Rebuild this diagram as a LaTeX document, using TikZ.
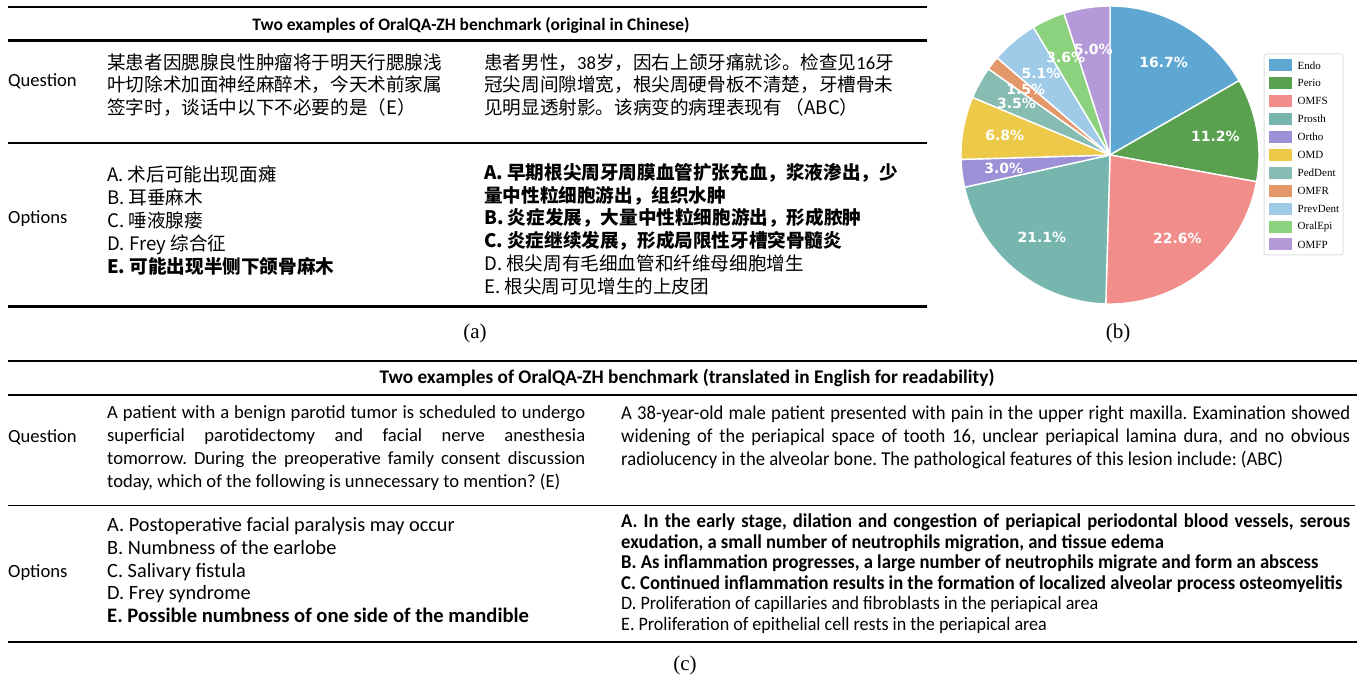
\documentclass[tikz,border=0pt]{standalone}
\usepackage{fontspec}
\setmainfont{Carlito}
\newfontfamily\cjk{Noto Sans CJK SC}
\newfontfamily\narrow{Carlito}[FakeStretch=0.95]
\newfontfamily\serif{Liberation Serif}
\newfontfamily\dejavu{DejaVu Sans}

\definecolor{endo}{RGB}{94,167,211}
\definecolor{perio}{RGB}{89,161,79}
\definecolor{omfs}{RGB}{241,142,139}
\definecolor{prosth}{RGB}{118,182,175}
\definecolor{ortho}{RGB}{156,144,214}
\definecolor{omd}{RGB}{237,201,73}
\definecolor{peddent}{RGB}{134,188,178}
\definecolor{omfr}{RGB}{228,152,106}
\definecolor{prevdent}{RGB}{160,203,232}
\definecolor{oralepi}{RGB}{140,209,125}
\definecolor{omfp}{RGB}{181,153,216}

\newcommand{\jline}[2]{\makebox[#1][s]{#2}}
\newcommand{\num}[1]{{\rmfamily #1}}
% full-width punctuation kept one em wide
\newcommand{\cm}{\makebox[1em][l]{，}}
\newcommand{\pd}{\makebox[1em][l]{。}}

\tikzset{
  cell/.style={anchor=base west, inner sep=0pt, font=\fontsize{18.6}{22}\selectfont},
  zh/.style={cell, font=\cjk\fontsize{18.6}{22}\selectfont},
  zhb/.style={cell, font=\cjk\bfseries\fontsize{18.6}{22}\selectfont},
  opt/.style={cell, font=\fontsize{20.3}{22}\selectfont},
  nar/.style={cell, font=\narrow\fontsize{19.6}{20}\selectfont},
  narb/.style={cell, font=\narrow\bfseries\fontsize{19.6}{20}\selectfont},
  head/.style={anchor=base, inner sep=0pt, font=\bfseries\fontsize{17.5}{20}\selectfont},
  toprule/.style={line width=2.6pt},
  midrule/.style={line width=1.6pt},
  caption/.style={font=\serif\fontsize{21}{24}\selectfont},
  pct/.style={text=white, inner sep=0pt, font=\dejavu\bfseries\fontsize{14}{16}\selectfont},
  leg/.style={anchor=west, inner sep=0pt, font=\serif\fontsize{11}{13}\selectfont}
}

\begin{document}
\frenchspacing
\begin{tikzpicture}[x=1pt, y=1pt]
\useasboundingbox (0,0) rectangle (1369,-684);

% ---- (a) table in Chinese
\draw[toprule] (8,-7) -- (927,-7);
\node[head] (headA) at (471,-31) {Two examples of OralQA-ZH benchmark (original in Chinese)};
\draw[toprule] (8,-40.5) -- (927,-40.5);

\node[cell] (qA) at (8,-87) {Question};
\node[zh] (qA1) at (107,-69.5) {某患者因腮腺良性肿瘤将于明天行腮腺浅};
\node[zh] (qA2) at (107,-92) {叶切除术加面神经麻醉术\cm 今天术前家属};
\node[zh] (qA3) at (107,-114.5) {签字时\cm 谈话中以下不必要的是（E）};
\node[zh] (qB1) at (484,-69.5) {患者男性\cm\num{38}岁\cm 因右上颌牙痛就诊\pd 检查见\num{16}牙};
\node[zh] (qB2) at (484,-92) {冠尖周间隙增宽\cm 根尖周硬骨板不清楚\cm 牙槽骨未};
\node[zh] (qB3) at (484,-114.5) {见明显透射影\pd 该病变的病理表现有 （ABC）};
\draw[midrule] (8,-143) -- (927,-143);

\node[cell] (oA) at (8,-223.5) {Options};
\node[zh] (oA1) at (107,-182) {A. 术后可能出现面瘫};
\node[zh] (oA2) at (107,-205) {B. 耳垂麻木};
\node[zh] (oA3) at (107,-228) {C. 唾液腺瘘};
\node[zh] (oA4) at (107,-251) {D. Frey 综合征};
\node[zhb] (oA5) at (107,-274) {E. 可能出现半侧下颌骨麻木};
\node[zhb] (oB1) at (484,-180) {A. 早期根尖周牙周膜血管扩张充血\cm 浆液渗出\cm 少};
\node[zhb] (oB2) at (484,-202.5) {量中性粒细胞游出\cm 组织水肿};
\node[zhb] (oB3) at (484,-225) {B. 炎症发展\cm 大量中性粒细胞游出\cm 形成脓肿};
\node[zhb] (oB4) at (484,-248) {C. 炎症继续发展\cm 形成局限性牙槽突骨髓炎};
\node[zh] (oB5) at (484,-271) {D. 根尖周有毛细血管和纤维母细胞增生};
\node[zh] (oB6) at (484,-294) {E. 根尖周可见增生的上皮团};
\draw[toprule] (8,-306.7) -- (927,-306.7);
\node[caption] (capA) at (475,-333) {(a)};

% ---- (b) pie chart
\coordinate (pie) at (1110,-155);
\def\pieang{90}
\foreach \val/\col in {16.7/endo,11.2/perio,22.6/omfs,21.1/prosth,3.0/ortho,6.8/omd,3.5/peddent,1.5/omfr,5.1/prevdent,3.6/oralepi,5.0/omfp}{
  \pgfmathsetmacro\endang{\pieang-3.5964*\val}
  \filldraw[fill=\col, draw=white, line width=1.4pt, line join=round]
    (pie) -- ++(\pieang:149) arc[start angle=\pieang, end angle=\endang, radius=149] -- cycle;
  \global\let\pieang\endang
}
\def\pieang{90}
\foreach \val [count=\k] in {16.7,11.2,22.6,21.1,3.0,6.8,3.5,1.5,5.1,3.6,5.0}{
  \pgfmathsetmacro\endang{\pieang-3.5964*\val}
  \pgfmathsetmacro\midang{(\pieang+\endang)/2}
  \node[pct] (pct\k) at ([shift={(\midang:107)}]pie) {\val\%};
  \global\let\pieang\endang
}

% legend
\draw[gray!25, line width=1pt, rounded corners=2pt, fill=white] (1264,-54) rectangle (1343,-255);
\foreach \name/\col [count=\k] in {Endo/endo,Perio/perio,OMFS/omfs,Prosth/prosth,Ortho/ortho,OMD/omd,PedDent/peddent,OMFR/omfr,PrevDent/prevdent,OralEpi/oralepi,OMFP/omfp}{
  \fill[\col] (1269,{-59.5-17.9*(\k-1)}) rectangle ++(22.5,-12);
  \node[leg] (leg\k) at (1297.5,{-65.5-17.9*(\k-1)}) {\name};
}
\node[caption] (capB) at (1118,-333) {(b)};

% ---- (c) table in English
\draw[toprule] (8,-361) -- (1357,-361);
\node[head, font=\bfseries\fontsize{19.3}{20}\selectfont] (headC) at (687,-384) {Two examples of OralQA-ZH benchmark (translated in English for readability)};
\draw[toprule] (8,-395) -- (1357,-395);

\node[cell] (qC) at (8,-442.5) {Question};
\node[cell] (qC1) at (107,-418.5) {\jline{478pt}{A patient with a benign parotid tumor is scheduled to undergo}};
\node[cell] (qC2) at (107,-442) {\jline{478pt}{superficial parotidectomy and facial nerve anesthesia}};
\node[cell] (qC3) at (107,-465) {\jline{478pt}{tomorrow. During the preoperative family consent discussion}};
\node[cell] (qC4) at (107,-488) {today, which of the following is unnecessary to mention? (E)};
\node[nar] (qD1) at (621,-419.5) {\jline{729pt}{A 38-year-old male patient presented with pain in the upper right maxilla. Examination showed}};
\node[nar] (qD2) at (621,-443) {\jline{729pt}{widening of the periapical space of tooth 16, unclear periapical lamina dura, and no obvious}};
\node[nar] (qD3) at (621,-466) {radiolucency in the alveolar bone. The pathological features of this lesion include: (ABC)};
\draw[midrule] (8,-505.7) -- (1355,-505.7);

\node[cell] (oC) at (8,-577.5) {Options};
\node[opt] (oC1) at (107,-531.5) {A. Postoperative facial paralysis may occur};
\node[opt] (oC2) at (107,-554.5) {B. Numbness of the earlobe};
\node[opt] (oC3) at (107,-577.5) {C. Salivary fistula};
\node[opt] (oC4) at (107,-599.5) {D. Frey syndrome};
\node[opt, font=\bfseries\fontsize{20.6}{22}\selectfont] (oC5) at (107,-622.5) {E. Possible numbness of one side of the mandible};
\node[narb] (oD1) at (621,-528) {\jline{729pt}{A. In the early stage, dilation and congestion of periapical periodontal blood vessels, serous}};
\node[narb] (oD2) at (621,-548) {exudation, a small number of neutrophils migration, and tissue edema};
\node[narb] (oD3) at (621,-568.5) {B. As inflammation progresses, a large number of neutrophils migrate and form an abscess};
\node[narb] (oD4) at (621,-589) {C. Continued inflammation results in the formation of localized alveolar process osteomyelitis};
\node[nar, font=\narrow\fontsize{19}{20}\selectfont] (oD5) at (621,-609) {D. Proliferation of capillaries and fibroblasts in the periapical area};
\node[nar, font=\narrow\fontsize{19}{20}\selectfont] (oD6) at (621,-630) {E. Proliferation of epithelial cell rests in the periapical area};
\draw[toprule] (8,-642) -- (1357,-642);
\node[caption] (capC) at (685,-665) {(c)};
\end{tikzpicture}
\end{document}
